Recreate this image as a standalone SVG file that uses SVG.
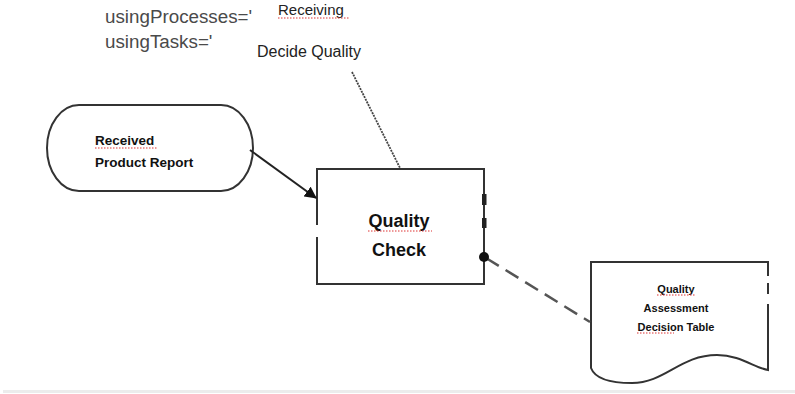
<svg xmlns="http://www.w3.org/2000/svg" width="795" height="394" viewBox="0 0 795 394">
<style>
.shape{fill:#fff;stroke:#333;stroke-width:2}
.lbl{font-family:"Liberation Sans",Arial,sans-serif;font-weight:bold;fill:#111}
.top{font-family:"Liberation Sans",Arial,sans-serif;fill:#4a4a4a}
.cal{font-family:"Liberation Sans",Arial,sans-serif;fill:#222}
.spell{stroke:#d33;stroke-width:1;stroke-dasharray:1.5 1.5;fill:none}
</style>
<defs>
<marker id="arr" markerWidth="12" markerHeight="12" refX="11" refY="6" orient="auto" markerUnits="userSpaceOnUse">
<path d="M0,0 L12,6 L0,12 Z" fill="#111"/>
</marker>
</defs>
<rect width="795" height="394" fill="#fff"/>
<rect x="3" y="390" width="792" height="3" fill="#ececec"/>
<g id="annotation">
<text class="top" x="105" y="23" font-size="18.8">usingProcesses='</text>
<text class="top" x="105" y="48" font-size="18.8">usingTasks='</text>
<text class="cal" x="278" y="15" font-size="15">Receiving</text>
<path class="spell" d="M278,18 H350"/>
<text class="cal" x="257" y="57" font-size="16">Decide Quality</text>
</g>
<g id="received-product-report">
<rect class="shape" x="47" y="105" width="206" height="86" rx="32" ry="43"/>
<text class="lbl" x="95" y="145" font-size="13.5">Received</text>
<path class="spell" d="M95,148 H157"/>
<text class="lbl" x="95" y="167" font-size="13.5">Product Report</text>
</g>
<g id="quality-check">
<rect class="shape" x="317" y="169" width="167" height="115"/>
<rect x="314" y="225" width="6" height="12" fill="#fff"/>
<rect x="482" y="194" width="4.5" height="11" fill="#222"/>
<rect x="482" y="218" width="4.5" height="10" fill="#222"/>
<text class="lbl" x="399" y="227" font-size="18" text-anchor="middle" fill="#1b2236">Quality</text>
<path class="spell" d="M368,231 H432"/>
<text class="lbl" x="399" y="256" font-size="18" text-anchor="middle" fill="#1b2236">Check</text>
</g>
<g id="quality-assessment-decision-table">
<path class="shape" d="M591,368 V262 H768 V370 C755,368 740,355 717,355 C680,355 665,383 632,383 C605,383 594,376 591,368 Z"/>
<rect x="765" y="276" width="6" height="7" fill="#fff"/>
<rect x="765" y="294" width="6" height="10" fill="#fff"/>
<text class="lbl" x="676" y="293" font-size="11" text-anchor="middle">Quality</text>
<path class="spell" d="M657,295 H695"/>
<text class="lbl" x="676" y="312" font-size="11" text-anchor="middle">Assessment</text>
<text class="lbl" x="676" y="331" font-size="11" text-anchor="middle">Decision Table</text>
<path class="spell" d="M637,333 H674"/>
</g>
<g id="connectors">
<line x1="352" y1="72" x2="400" y2="168" stroke="#444" stroke-width="1.8" stroke-dasharray="2 1"/>
<line x1="250" y1="150" x2="316" y2="198" stroke="#222" stroke-width="2" marker-end="url(#arr)"/>
<line x1="486" y1="258" x2="590" y2="322" stroke="#555" stroke-width="2.5" stroke-dasharray="15 8"/>
<circle cx="484" cy="257" r="5" fill="#111"/>
</g>
</svg>
